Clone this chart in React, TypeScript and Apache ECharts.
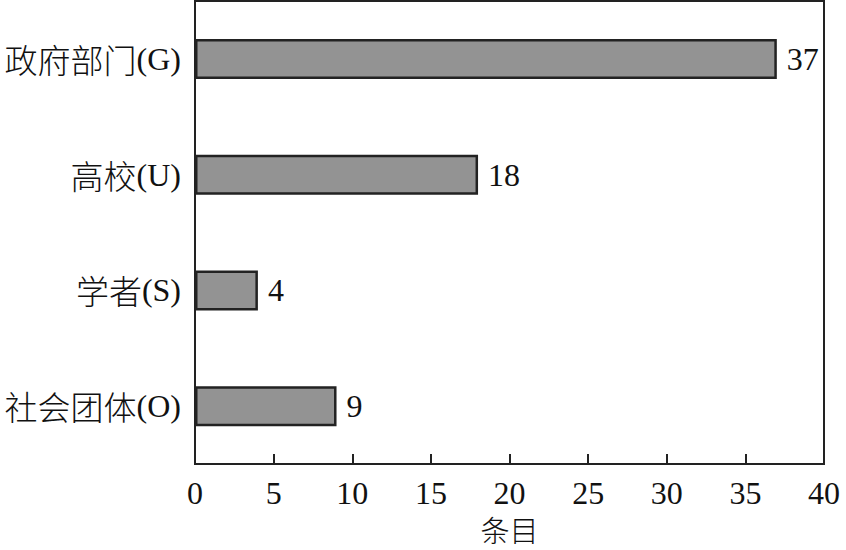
import React, { useEffect, useRef } from "react";
import * as echarts from "echarts";

const categories = ["社会团体(O)", "学者(S)", "高校(U)", "政府部门(G)"];
const values = [9, 4, 18, 37];
const xTicks = [0, 5, 10, 15, 20, 25, 30, 35, 40];
const xName = "条目";

const LATIN = "'Liberation Serif', 'Times New Roman', serif";
const CJK = "'Noto Sans CJK SC', 'Noto Sans CJK JP', sans-serif";

export default function App() {
  const ref = useRef<HTMLDivElement>(null);
  useEffect(() => {
    if (!ref.current) return;
    const chart = echarts.init(ref.current, undefined, { renderer: "svg" });
    chart.setOption({
      animation: false,
      backgroundColor: "#ffffff",
      grid: {
        left: 195,
        right: 22,
        top: 1,
        bottom: 86,
        show: true,
        borderColor: "#222222",
        borderWidth: 2,
        containLabel: false,
      },
      xAxis: {
        type: "value",
        min: xTicks[0],
        max: xTicks[xTicks.length - 1],
        interval: 5,
        name: xName,
        nameLocation: "middle",
        nameGap: 50,
        nameTextStyle: { fontFamily: CJK, fontSize: 29, lineHeight: 29, fontWeight: 300, color: "#111" },
        axisLine: { show: true, lineStyle: { color: "#222222", width: 2 } },
        axisTick: { show: true, inside: true, length: 10, lineStyle: { color: "#222222", width: 2 } },
        axisLabel: { fontFamily: LATIN, fontSize: 32, color: "#111", margin: 13 },
        splitLine: { show: false },
      },
      yAxis: {
        type: "category",
        data: categories,
        axisLine: { show: true, lineStyle: { color: "#222222", width: 2 } },
        axisTick: { show: false },
        axisLabel: {
          margin: 14,
          color: "#111",
          formatter: (v: string) => {
            const m = v.match(/^(.*?)(\(.*\))$/);
            if (!m) return v;
            return `{c|${m[1]}}{l|${m[2]}}`;
          },
          rich: {
            c: { fontFamily: CJK, fontSize: 33, fontWeight: 300, color: "#111" },
            l: { fontFamily: LATIN, fontSize: 32, color: "#111" },
          },
        },
      },
      series: [
        {
          type: "bar",
          data: values,
          barWidth: 40,
          itemStyle: { color: "#939393", borderColor: "#222222", borderWidth: 2.5 },
          label: {
            show: true,
            position: "right",
            distance: 10,
            fontFamily: LATIN,
            fontSize: 32,
            color: "#111",
          },
        },
      ],
    });
    return () => chart.dispose();
  }, []);
  return <div ref={ref} style={{ width: 846, height: 550, position: "absolute", left: 0, top: 0 }} />;
}
